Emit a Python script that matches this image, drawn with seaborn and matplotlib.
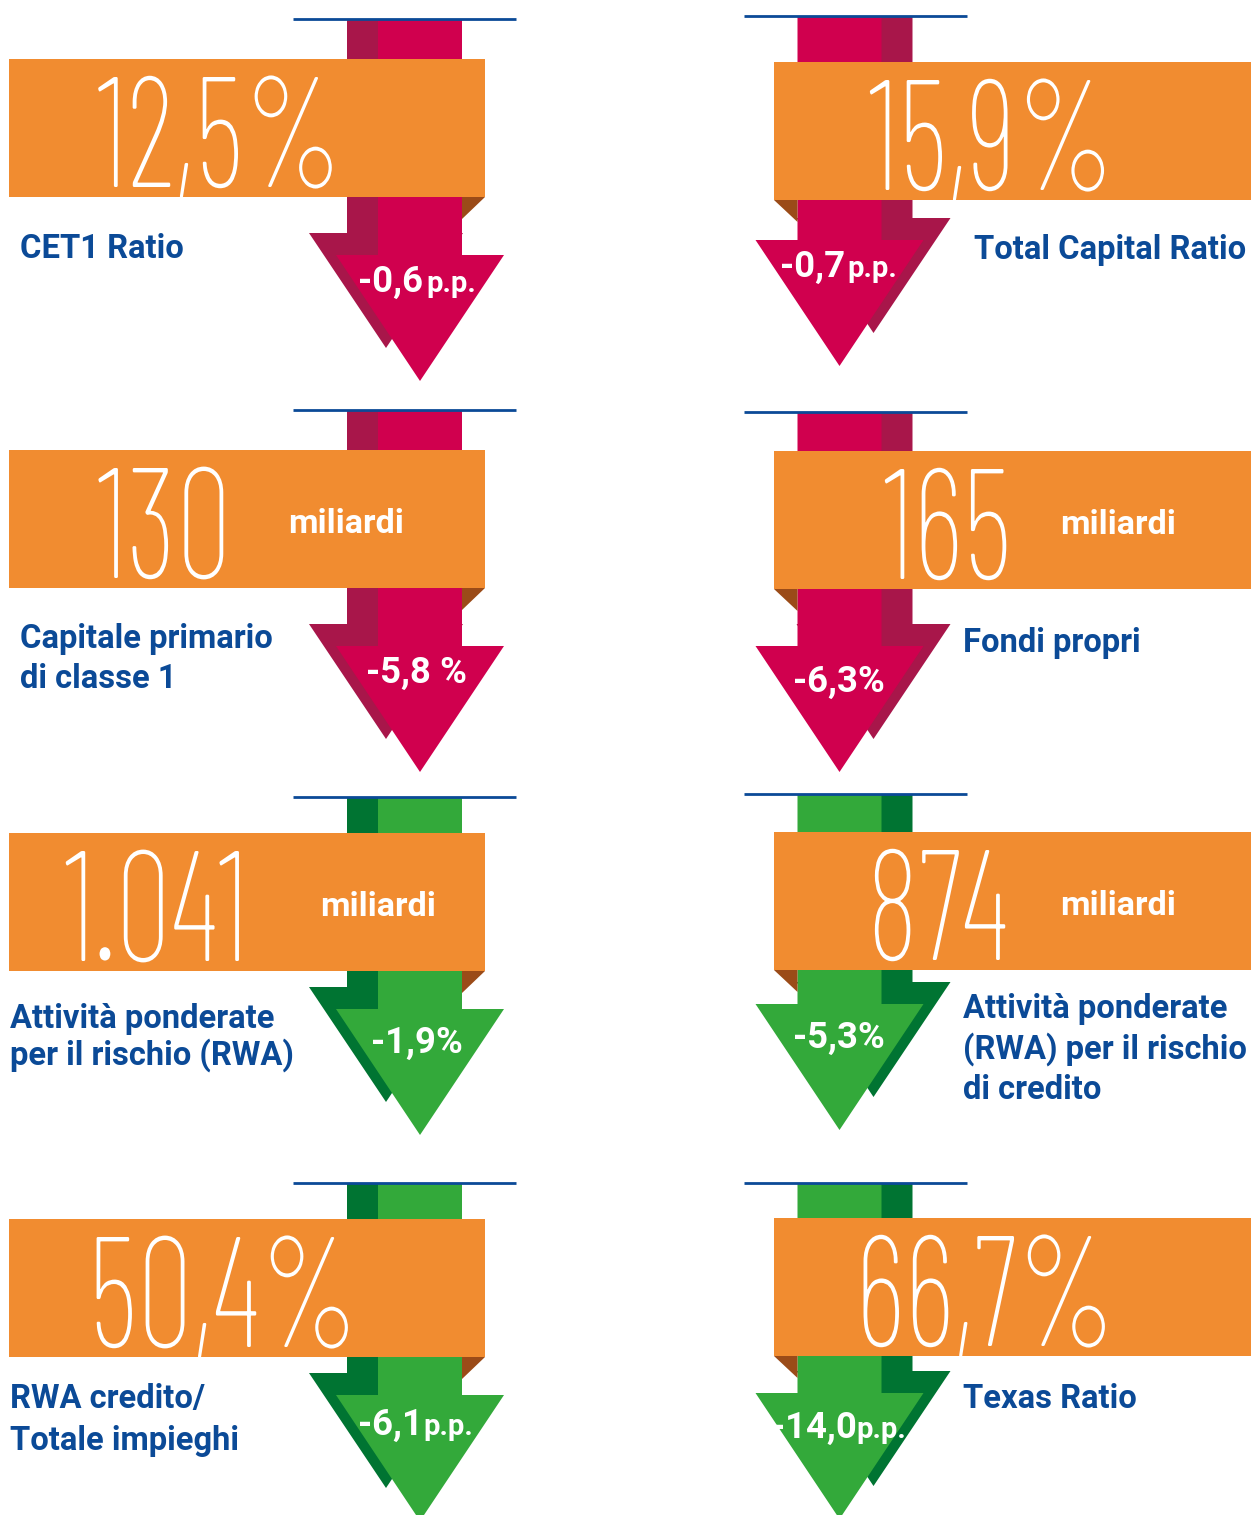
"""Infografica: coefficienti patrimoniali e variazioni (frecce giù)."""
import matplotlib
matplotlib.use("Agg")
import matplotlib.pyplot as plt
import matplotlib.patches as mpatches
from matplotlib import font_manager as fm, patheffects
from matplotlib.font_manager import FontProperties
from matplotlib.textpath import TextPath
from matplotlib.transforms import Affine2D
import seaborn as sns

sns.set_theme(style="white")
plt.rcParams["font.family"] = ["Roboto", "DejaVu Sans"]

# ── dati ────────────────────────────────────────────────────────────────────
labels = [["CET1 Ratio"], ["Total Capital Ratio"],
          ["Capitale primario", "di classe 1"], ["Fondi propri"],
          ["Attività ponderate", "per il rischio (RWA)"],
          ["Attività ponderate", "(RWA) per il rischio", "di credito"],
          ["RWA credito/", "Totale impieghi"], ["Texas Ratio"]]
values = ["12,5%", "15,9%", "130", "165", "1.041", "874", "50,4%", "66,7%"]
units = ["", "", "miliardi", "miliardi", "miliardi", "miliardi", "", ""]
changes = ["-0,6", "-0,7", "-5,8", "-6,3", "-1,9", "-5,3", "-6,1", "-14,0"]
change_units = ["p.p.", "p.p.", " %", "%", "%", "%", "p.p.", "p.p."]
favourable = [False, False, False, False, True, True, True, True]

# ── layout (pixel) ──────────────────────────────────────────────────────────
W, H = 1251, 1515
line_y = [19, 16, 410, 412, 797, 794, 1183, 1183]
banner_top = [59, 62, 450, 451, 833, 832, 1219, 1218]
head_top = [255, 240, 646, 646, 1009, 1004, 1395, 1393]
num_cx = [221, 993, 165, 948, 157, 937, 224, 986]
unit_x = [0, 0, 288, 1060, 320, 1060, 0, 0]
change_base = [292, 277, 683, 692, 1053, 1048, 1435, 1438]
label_x = [20, 974, 20, 963, 10, 963, 10, 963]
label_base = [[258], [259], [648, 688], [652], [1028, 1065],
              [1018, 1059, 1099], [1408, 1450], [1408]]
BANNER_H = 138
COL = {0: dict(banner=(9, 485), front=420, back=386, line=(293, 516)),
       1: dict(banner=(774, 1251), front=839.5, back=873.5, line=(744, 967))}

ORANGE, BROWN, BLUE = "#F18C30", "#9B4B18", "#0B4A97"
red_front, red_back = sns.color_palette(["#D0004E", "#A8164A"])
green_front, green_back = sns.color_palette(["#33A93A", "#007432"])

PX_PER_PT = 100 / 72


class Squeeze(patheffects.AbstractPathEffect):
    """Comprime orizzontalmente il testo attorno al suo centro."""
    def __init__(self, factor):
        super().__init__()
        self.factor = factor

    def draw_path(self, renderer, gc, tpath, affine, rgbFace=None):
        ext = tpath.get_extents()
        cx = (ext.x0 + ext.x1) / 2
        sq = Affine2D().translate(-cx, 0).scale(self.factor, 1).translate(cx, 0)
        renderer.draw_path(gc, tpath, sq + affine, rgbFace)


def pick_font(name, weight):
    cands = [f for f in fm.fontManager.ttflist if f.name == name and f.style == "normal"]
    if not cands:
        return FontProperties(family="DejaVu Sans", weight="light")
    best = min(cands, key=lambda f: abs((f.weight if isinstance(f.weight, int) else 400) - weight))
    return FontProperties(fname=best.fname)


def ext_px(s, fp, size_pt):
    e = TextPath((0, 0), s, size=100, prop=fp).get_extents()
    k = size_pt * PX_PER_PT / 100
    return e.width * k, e.height * k


fp_num = pick_font("Barlow Condensed", 250)
fp_bold = FontProperties(family=["Roboto", "DejaVu Sans"], weight="bold")

num_size = 110 / ext_px("1", fp_num, 1)[1]
label_size = 271 / ext_px("Total Capital Ratio", fp_bold, 1)[0]
unit_size = 112 / ext_px("miliardi", fp_bold, 1)[0]
chg_size = 26 / ext_px("1", fp_bold, 1)[1]
pp_size = chg_size * 0.8


def arrow(cx, top, htop, shaft, head, hh, color, z):
    pts = [(cx - shaft, top), (cx + shaft, top), (cx + shaft, htop), (cx + head, htop),
           (cx, htop + hh), (cx - head, htop), (cx - shaft, htop)]
    ax.add_patch(mpatches.Polygon(pts, closed=True, color=color, lw=0, zorder=z))


fig = plt.figure(figsize=(W / 100, H / 100), dpi=100)
ax = fig.add_axes([0, 0, 1, 1])
ax.set_xlim(0, W)
ax.set_ylim(H, 0)
ax.axis("off")

for i in range(8):
    c = COL[i % 2]
    front, back = (green_front, green_back) if favourable[i] else (red_front, red_back)
    bt, bb = banner_top[i], banner_top[i] + BANNER_H
    bx0, bx1 = c["banner"]

    # frecce: ombra dietro, freccia davanti
    arrow(c["back"], line_y[i], head_top[i] - 22, 39, 77, 115, back, 1)
    arrow(c["front"], line_y[i], head_top[i], 42, 84, 126, front, 2)

    # piega marrone del nastro
    if i % 2 == 0:
        fold = [(c["front"] + 42, bb), (bx1, bb), (c["front"] + 42, bb + 22)]
    else:
        fold = [(c["front"] - 42, bb), (bx0, bb), (c["front"] - 42, bb + 22)]
    ax.add_patch(mpatches.Polygon(fold, closed=True, color=BROWN, lw=0, zorder=3))

    # nastro arancione
    ax.add_patch(mpatches.Rectangle((bx0, bt), bx1 - bx0, BANNER_H, color=ORANGE, lw=0, zorder=4))
    ax.plot(c["line"], [line_y[i], line_y[i]], color=BLUE, lw=2.0,
            solid_capstyle="butt", zorder=5)

    # valore grande
    ax.text(num_cx[i], bt + 128, values[i], ha="center", va="baseline", color="white",
            fontproperties=fp_num, fontsize=num_size, zorder=6,
            path_effects=[Squeeze(0.8)])
    if units[i]:
        ax.text(unit_x[i], (bt + bb) / 2 + 14, units[i], ha="left", va="baseline",
                color="white", fontproperties=fp_bold, fontsize=unit_size, zorder=6)

    # variazione dentro la freccia
    cx = c["front"] - 3 if i % 2 == 0 else c["front"] - 1
    if change_units[i] == "p.p.":
        gap = 3 if len(changes[i]) > 4 else 6
        w1 = ext_px(changes[i], fp_bold, chg_size)[0]
        w2 = ext_px("p.p.", fp_bold, pp_size)[0]
        x0 = cx - (w1 + gap + w2) / 2
        ax.text(x0 + w1 / 2, change_base[i], changes[i], ha="center", va="baseline",
                color="white", fontproperties=fp_bold, fontsize=chg_size, zorder=6)
        ax.text(x0 + w1 + gap + w2 / 2, change_base[i], "p.p.", ha="center", va="baseline",
                color="white", fontproperties=fp_bold, fontsize=pp_size, zorder=6)
    else:
        ax.text(cx, change_base[i], changes[i] + change_units[i], ha="center", va="baseline",
                color="white", fontproperties=fp_bold, fontsize=chg_size, zorder=6)

    # etichetta blu
    for line, yb in zip(labels[i], label_base[i]):
        ax.text(label_x[i], yb, line, ha="left", va="baseline", color=BLUE,
                fontproperties=fp_bold, fontsize=label_size, zorder=6)

fig.savefig("out.png", dpi=100)
